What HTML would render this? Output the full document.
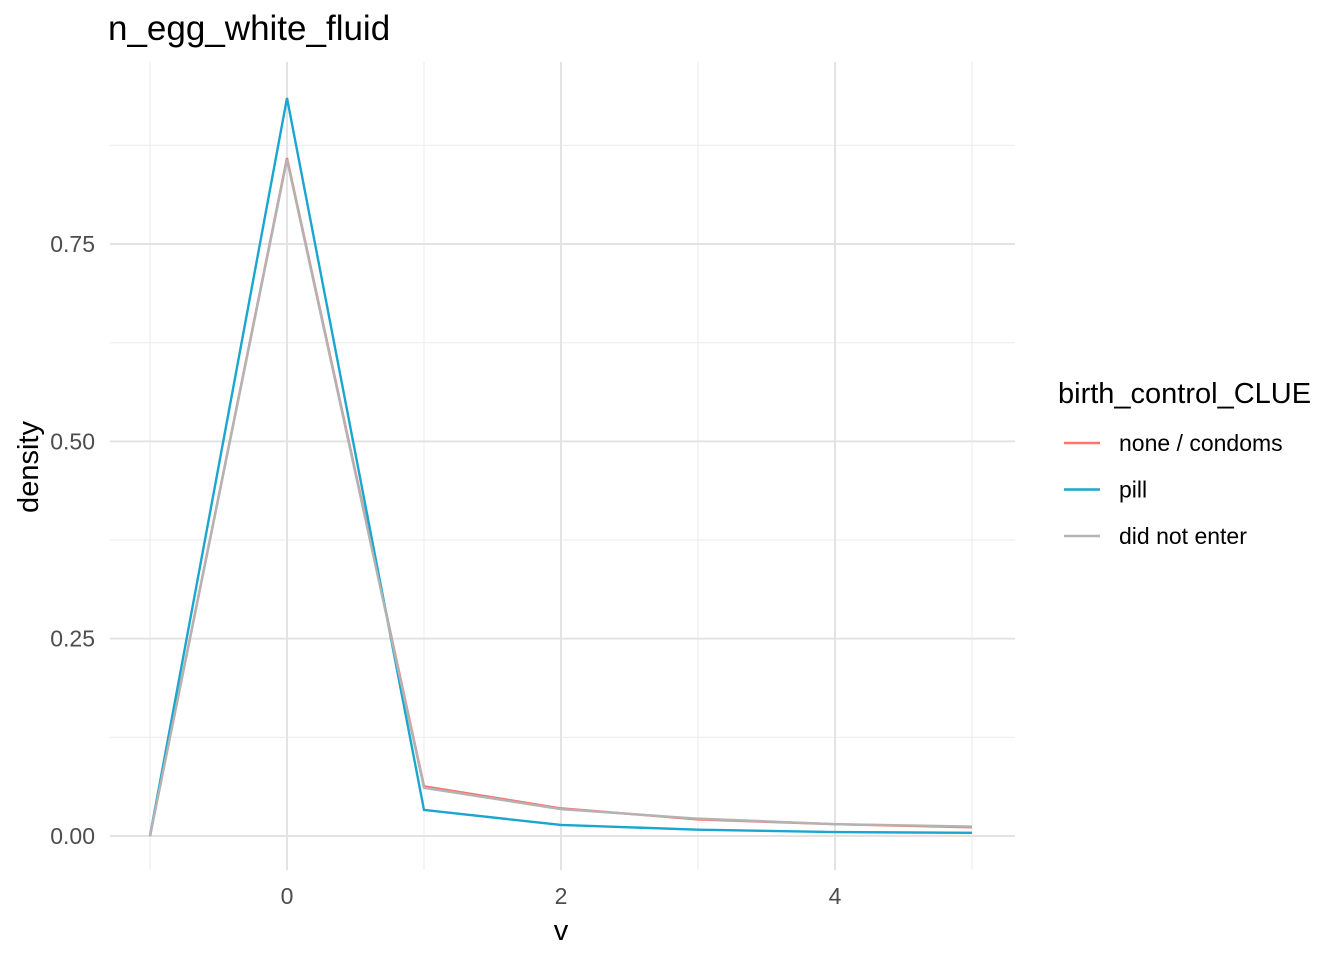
<!DOCTYPE html>
<html><head><meta charset="utf-8"><style>
body{margin:0;background:#fff;font-family:"Liberation Sans",Arial,sans-serif}
</style></head><body>
<svg id="c" width="1344" height="960" xmlns="http://www.w3.org/2000/svg" font-family="Liberation Sans, Arial, sans-serif"></svg>
<script>
const xs=[-1,0,1,2,3,4,5];
const noneVals=[0,0.859,0.063,0.035,0.021,0.015,0.011];
const pillVals=[0,0.935,0.033,0.014,0.008,0.005,0.004];
const dneVals=[0,0.857,0.061,0.034,0.022,0.015,0.012];
const yTicks=[0,0.25,0.5,0.75];
const yTickLabels=["0.00","0.25","0.50","0.75"];
const xTicks=[0,2,4];
const seriesNames=["none / condoms","pill","did not enter"];
const seriesColors=["#F8766D","#1AA6CF","#B3B3B3"];
const NS="http://www.w3.org/2000/svg";
const svg=document.getElementById('c');
const X=v=>287+v*137;
const Y=v=>836-v*789.3;
function el(t,a,txt){const e=document.createElementNS(NS,t);for(const k in a)e.setAttribute(k,a[k]);if(txt!==undefined)e.textContent=txt;svg.appendChild(e);return e;}
[0.125,0.375,0.625,0.875].forEach(v=>{const e=el('line',{x1:110,x2:1015,y1:Y(v),y2:Y(v),stroke:'#ebebeb','stroke-width':1});

});
[-1,1,3,5].forEach(v=>{const e=el('line',{x1:X(v),x2:X(v),y1:62,y2:870,stroke:'#ebebeb','stroke-width':1});

});
yTicks.forEach((v,i)=>{const e=el('line',{x1:110,x2:1015,y1:Y(v),y2:Y(v),stroke:'#e3e3e3','stroke-width':2});


const t=el('text',{x:95,y:Y(v)+8,'text-anchor':'end','font-size':23,fill:'#4d4d4d'},yTickLabels[i]);

});
xTicks.forEach(v=>{const e=el('line',{x1:X(v),x2:X(v),y1:62,y2:870,stroke:'#e3e3e3','stroke-width':2});


const t=el('text',{x:X(v),y:904,'text-anchor':'middle','font-size':23,fill:'#4d4d4d'},String(v));

});
[noneVals,pillVals,dneVals].forEach((vals,i)=>{
const p=el('polyline',{points:xs.map((x,j)=>X(x)+','+Y(vals[j])).join(' '),fill:'none',stroke:seriesColors[i],'stroke-width':2.4});

});
let t=el('text',{x:108,y:40,'font-size':35,fill:'#000'},'n_egg_white_fluid');

t=el('text',{x:561,y:940,'text-anchor':'middle','font-size':29,fill:'#000'},'v');

t=el('text',{x:38,y:467,'text-anchor':'middle','font-size':29,fill:'#000',transform:'rotate(-90 38 467)'},'density');

t=el('text',{x:1058,y:403,'font-size':29,fill:'#000'},'birth_control_CLUE');

seriesNames.forEach((n,i)=>{const y=443+i*46.5;
const l=el('line',{x1:1064,x2:1100,y1:y,y2:y,stroke:seriesColors[i],'stroke-width':2.4});

const tt=el('text',{x:1119,y:y+8,'font-size':23,fill:'#000'},n);
});
</script>
</body></html>
